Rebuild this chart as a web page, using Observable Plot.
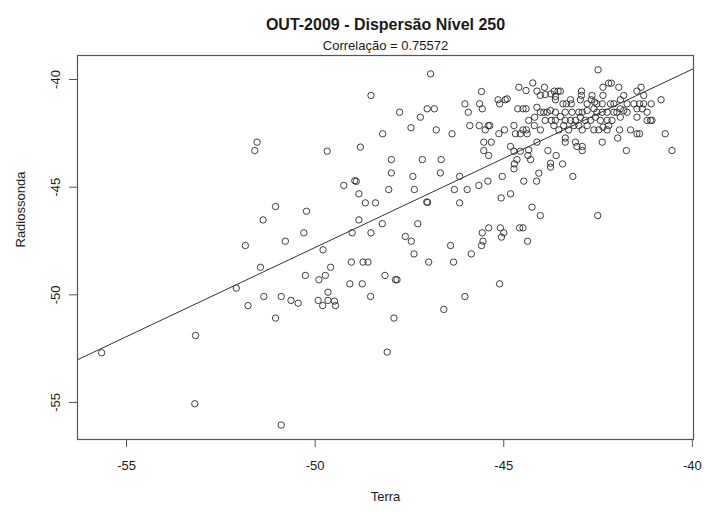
<!DOCTYPE html>
<html><head><meta charset="utf-8">
<script src="https://cdn.jsdelivr.net/npm/d3@7"></script>
<script src="https://cdn.jsdelivr.net/npm/@observablehq/plot@0.6"></script>
<style>body{margin:0;background:#fff;}</style>
</head><body><div id="chart"></div>
<script>
const titulo = "OUT-2009 - Dispersão Nível 250";
const subtitulo = "Correlação = 0.75572";
const rotuloX = "Terra";
const rotuloY = "Radiossonda";
const ticksX = [-55, -50, -45, -40];
const ticksY = [-55, -50, -45, -40];
const dominioX = [-56.30, -39.97];
const dominioY = [-56.72, -38.885];
const intercepto = -6.40;
const inclinacao = 0.828;

const terra = [
  -48.52,-51.54,-51.60,-49.68,-48.80,-48.95,-48.91,-49.24,-48.84,-48.67,-48.40,-51.05,-50.23,-51.38,-48.84,
  -50.30,-49.02,-48.52,-50.79,-51.85,-49.79,-51.45,-49.59,-49.04,-48.73,-48.60,-50.26,-49.90,-49.73,-49.08,-48.75,-52.09,-49.66,-51.36,-50.90,-50.64,-50.45,-49.92,-49.80,-49.66,-49.49,-49.46,-51.78,-48.53,-51.05,-53.17,-55.66,-53.19,-50.90,
  -48.22,-47.28,-47.61,-47.45,-47.38,-46.99,-48.15,-47.87,-47.83,-47.91,-48.09,-46.59,-46.41,-46.33,-46.03,-45.86,-45.57,-45.55,-45.59,-45.40,-45.11,-45.09,-45.00,-45.06,-44.58,-44.49,-44.37,
  -46.94,-42.50,-47.76,-48.21,-47.98,-47.98,-48.05,-47.21,-47.03,-46.84,
  -47.46,-46.79,-46.37,-46.03,-45.94,-45.59,-45.64,-45.57,-45.90,-45.65,
  -45.41,-45.37,-45.49,-45.15,-44.96,-44.91,-45.11,-45.13,-44.98,-45.53,
  -45.33,-45.53,-45.40,-44.73,-44.60,-44.41,-44.23,-44.63,-44.49,-44.41,
  -44.34,-44.49,-44.40,-44.69,-44.56,-44.38,-44.19,-44.03,-44.12,-44.82,
  -44.73,-44.56,-44.34,-44.36,-44.65,-44.29,-44.72,-44.73,-45.04,-45.66,
  -45.42,-44.47,-44.13,-44.07,-44.82,-45.07,-46.17,-46.66,-47.16,-47.41,
  -46.68,-47.37,-46.31,-45.97,-47.04,-47.02,-46.17,-44.25,-44.03,-42.51,
  -43.17,-43.44,-43.61,-43.83,-43.76,-43.76,
  -44.12,-43.92,-44.03,-43.90,-43.75,-43.66,-43.56,-43.50,-43.63,-42.94,
  -42.94,-42.66,-42.68,-42.37,-42.22,-42.15,-41.95,-42.37,-41.36,-41.47,
  -41.29,-40.83,-41.09,-41.82,-43.63,-43.43,-43.34,-43.23,-43.21,-42.97,
  -42.79,-42.59,-42.53,-42.39,-42.17,-42.08,-41.91,-41.73,-41.55,-41.40,
  -41.29,-44.12,-44.03,-43.94,-43.85,-43.76,-43.63,-43.37,-43.19,-43.01,
  -42.92,-42.79,-42.61,-42.53,-42.39,-42.26,-42.08,-42.00,-41.91,-41.82,
  -41.73,-41.47,-41.33,-41.20,-44.18,-43.90,-43.74,-43.63,-43.50,-43.37,
  -43.23,-43.10,-42.97,-42.84,-42.70,-42.57,-42.44,-42.26,-42.13,-41.91,
  -41.47,-41.20,-41.11,-41.07,-43.67,-43.54,-43.41,-43.28,-43.14,-43.01,
  -42.92,-42.79,-42.61,-42.48,-42.37,-42.22,-42.26,-41.93,-41.64,-41.47,
  -41.40,-40.72,-43.37,-43.37,-43.10,-43.06,-42.92,-42.92,-42.39,-41.98,
  -41.75,-40.54
];
const radiossonda = [
  -40.74,-42.91,-43.30,-43.33,-43.14,-44.70,-44.73,-44.92,-45.31,-45.73,-45.73,-45.90,-46.12,-46.52,-46.52,
  -47.12,-47.12,-47.12,-47.51,-47.71,-47.91,-48.72,-48.72,-48.48,-48.48,-48.48,-49.10,-49.30,-49.10,-49.49,-49.49,-49.69,-49.88,-50.08,-50.08,-50.26,-50.39,-50.26,-50.50,-50.26,-50.29,-50.50,-50.50,-50.08,-51.08,-51.89,-52.69,-55.06,-56.05,
  -46.70,-46.70,-47.29,-47.51,-48.10,-48.48,-49.10,-49.30,-49.30,-51.08,-52.66,-50.68,-47.71,-48.48,-50.08,-48.10,-47.12,-47.51,-47.71,-46.89,-49.49,-46.89,-47.12,-47.32,-46.89,-46.89,-47.51,
  -39.74,-39.55,-41.52,-42.52,-43.72,-44.34,-45.11,-41.75,-41.36,-41.36,
  -42.24,-42.34,-42.52,-41.13,-41.52,-40.56,-41.13,-41.36,-42.14,-42.14,
  -42.14,-42.14,-42.34,-40.94,-40.94,-40.90,-41.13,-42.52,-42.34,-42.91,
  -42.91,-43.30,-43.53,-42.14,-40.36,-40.51,-40.16,-41.36,-41.36,-41.36,
  -41.90,-42.34,-42.34,-42.52,-42.52,-42.52,-42.14,-42.34,-42.91,-43.11,
  -43.33,-43.33,-43.27,-43.53,-43.72,-43.72,-43.92,-44.15,-44.50,-44.92,
  -44.72,-44.72,-44.72,-44.35,-45.31,-45.50,-44.50,-43.72,-43.72,-44.50,
  -44.34,-45.11,-45.11,-45.11,-45.69,-45.71,-45.73,-45.93,-46.32,-46.32,
  -44.50,-43.92,-43.53,-43.30,-43.89,-44.07,
  -40.54,-40.36,-40.74,-40.70,-40.67,-40.54,-40.54,-40.54,-40.79,-40.54,
  -40.74,-40.74,-40.94,-40.36,-40.17,-40.17,-40.36,-40.74,-40.36,-40.54,
  -40.74,-40.94,-41.13,-40.74,-40.94,-41.13,-41.13,-40.94,-41.13,-40.94,
  -41.13,-41.05,-41.13,-41.13,-41.13,-41.13,-40.94,-41.13,-41.13,-41.13,
  -41.13,-41.29,-41.52,-41.52,-41.52,-41.44,-41.52,-41.52,-41.52,-41.52,
  -41.52,-41.44,-41.36,-41.52,-41.52,-41.52,-41.52,-41.52,-41.36,-41.44,
  -41.52,-41.36,-41.36,-41.52,-41.75,-41.90,-41.90,-41.90,-41.72,-41.90,
  -41.90,-41.90,-41.75,-41.90,-41.90,-41.75,-41.90,-41.90,-41.90,-41.75,
  -41.75,-41.90,-41.90,-41.90,-42.14,-42.34,-42.14,-42.34,-42.14,-42.14,
  -42.34,-42.14,-42.34,-42.34,-42.21,-42.14,-42.34,-42.34,-42.34,-42.52,
  -42.52,-42.52,-42.72,-42.91,-42.91,-43.11,-43.11,-43.30,-42.91,-42.72,
  -43.30,-43.30
];

const pontos = terra.map((x, i) => ({x, y: radiossonda[i]}));
const linha = dominioX.map(x => ({x, y: intercepto + inclinacao * x}));
const fonte = "'Liberation Sans', Arial, Helvetica, sans-serif";
const fmt = d => String(d);

const chart = Plot.plot({
  width: 705,
  height: 512,
  marginTop: 55,
  marginBottom: 73,
  marginLeft: 77,
  marginRight: 12,
  style: {fontFamily: fonte, fontSize: "13px", background: "#fff", color: "#1a1a1a"},
  x: {domain: dominioX},
  y: {domain: dominioY},
  marks: [
    Plot.dot(pontos, {x: "x", y: "y", r: 3.2, stroke: "#2a2a2a", strokeWidth: 0.9, fill: "none"}),
    Plot.line(linha, {x: "x", y: "y", stroke: "#333", strokeWidth: 1}),
    Plot.frame({stroke: "#555", strokeWidth: 1.2}),
    Plot.axisX({ticks: ticksX, tickSize: 8, tickPadding: 13, tickFormat: fmt, fontSize: 13, label: null, stroke: "#555"}),
    Plot.axisY({ticks: ticksY, tickSize: 8, tickFormat: () => "", label: null, stroke: "#555"}),
    Plot.text(ticksY, {x: dominioX[0], y: d => d, dx: -22, rotate: -90, text: fmt, fontSize: 13}),
    Plot.text([titulo], {frameAnchor: "top", dy: -37, fontWeight: "bold", fontSize: 16}),
    Plot.text([subtitulo], {frameAnchor: "top", dy: -15, fontSize: 13}),
    Plot.text([rotuloX], {frameAnchor: "bottom", dy: 61, fontSize: 13}),
    Plot.text([rotuloY], {frameAnchor: "left", dx: -57, rotate: -90, fontSize: 13})
  ]
});
document.getElementById("chart").appendChild(chart);
</script>
</body></html>
